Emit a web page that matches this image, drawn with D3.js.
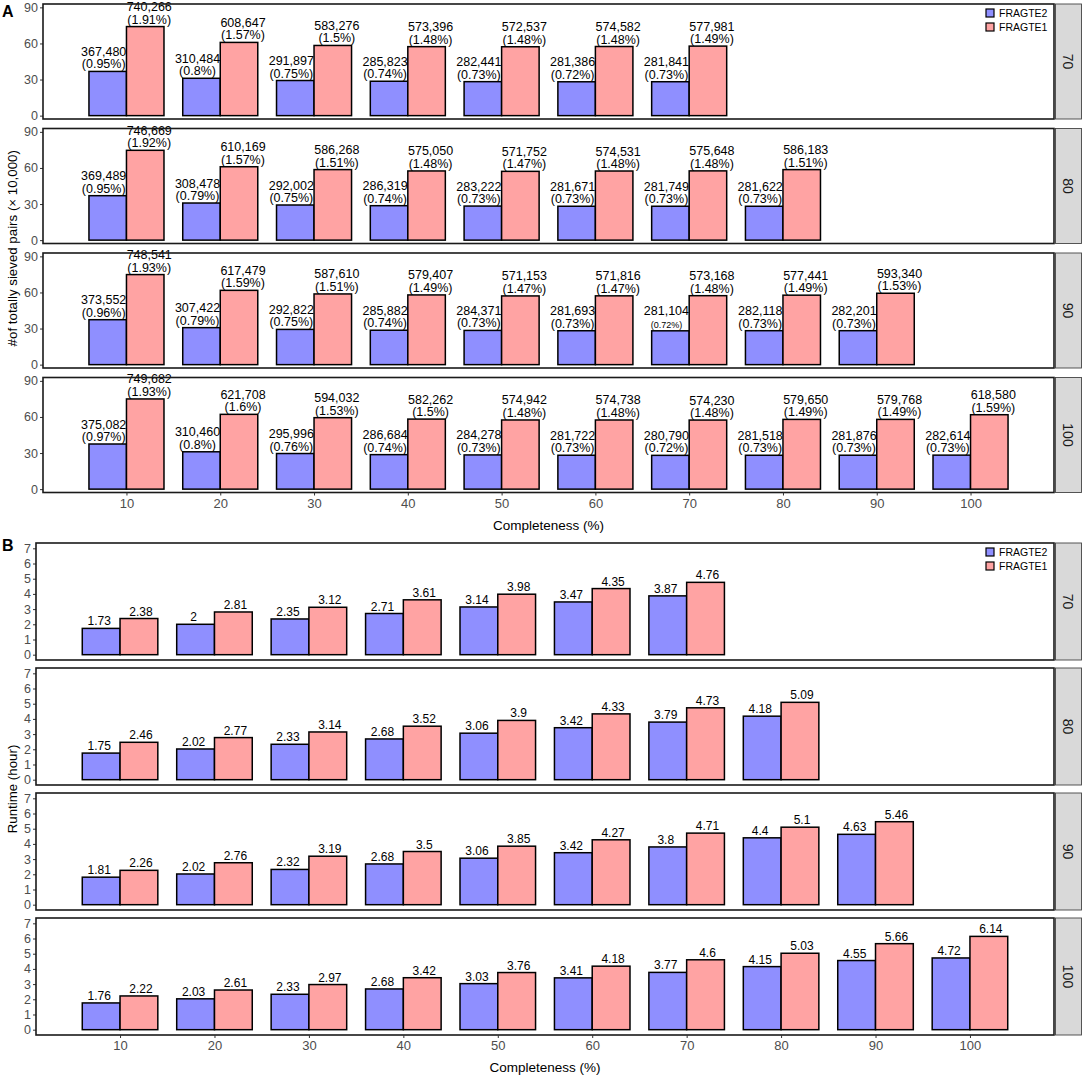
<!DOCTYPE html>
<html>
<head>
<meta charset="utf-8">
<script src="https://cdn.jsdelivr.net/npm/d3@7"></script>
<style>
  body { margin: 0; background: #fff; }
  svg { font-family: "Liberation Sans", Arial, sans-serif; }
</style>
</head>
<body>
<svg id="chart" width="1084" height="1077"></svg>
<script>
// completeness levels and facet rows
const completeness = [10, 20, 30, 40, 50, 60, 70, 80, 90, 100]
const facets = [70, 80, 90, 100]
const seriesNames = ['FRAGTE2', 'FRAGTE1']
const seriesColors = ['#8f8fff', '#ffa3a3']

// panel A: totally sieved pairs, one array per facet
const pairsFragte2 = {
  70: [367480, 310484, 291897, 285823, 282441, 281386, 281841],
  80: [369489, 308478, 292002, 286319, 283222, 281671, 281749, 281622],
  90: [373552, 307422, 292822, 285882, 284371, 281693, 281104, 282118, 282201],
  100: [375082, 310460, 295996, 286684, 284278, 281722, 280790, 281518, 281876, 282614]
}
const pctFragte2 = {
  70: [0.95, 0.8, 0.75, 0.74, 0.73, 0.72, 0.73],
  80: [0.95, 0.79, 0.75, 0.74, 0.73, 0.73, 0.73, 0.73],
  90: [0.96, 0.79, 0.75, 0.74, 0.73, 0.73, 0.72, 0.73, 0.73],
  100: [0.97, 0.8, 0.76, 0.74, 0.73, 0.73, 0.72, 0.73, 0.73, 0.73]
}
const pairsFragte1 = {
  70: [740266, 608647, 583276, 573396, 572537, 574582, 577981],
  80: [746669, 610169, 586268, 575050, 571752, 574531, 575648, 586183],
  90: [748541, 617479, 587610, 579407, 571153, 571816, 573168, 577441, 593340],
  100: [749682, 621708, 594032, 582262, 574942, 574738, 574230, 579650, 579768, 618580]
}
const pctFragte1 = {
  70: [1.91, 1.57, 1.5, 1.48, 1.48, 1.48, 1.49],
  80: [1.92, 1.57, 1.51, 1.48, 1.47, 1.48, 1.48, 1.51],
  90: [1.93, 1.59, 1.51, 1.49, 1.47, 1.47, 1.48, 1.49, 1.53],
  100: [1.93, 1.6, 1.53, 1.5, 1.48, 1.48, 1.48, 1.49, 1.49, 1.59]
}

// panel B: runtime in hours
const runtimeFragte2 = {
  70: [1.73, 2, 2.35, 2.71, 3.14, 3.47, 3.87],
  80: [1.75, 2.02, 2.33, 2.68, 3.06, 3.42, 3.79, 4.18],
  90: [1.81, 2.02, 2.32, 2.68, 3.06, 3.42, 3.8, 4.4, 4.63],
  100: [1.76, 2.03, 2.33, 2.68, 3.03, 3.41, 3.77, 4.15, 4.55, 4.72]
}
const runtimeFragte1 = {
  70: [2.38, 2.81, 3.12, 3.61, 3.98, 4.35, 4.76],
  80: [2.46, 2.77, 3.14, 3.52, 3.9, 4.33, 4.73, 5.09],
  90: [2.26, 2.76, 3.19, 3.5, 3.85, 4.27, 4.71, 5.1, 5.46],
  100: [2.22, 2.61, 2.97, 3.42, 3.76, 4.18, 4.6, 5.03, 5.66, 6.14]
}

const yTicksA = [0, 30, 60, 90]
const yTicksB = [0, 1, 2, 3, 4, 5, 6, 7]
const xTicks = completeness

const svg = d3.select('#chart')
const fmt = d3.format(',')

/**
 * Builds bar records for one section
 */
function buildRows (fragte2, fragte1, labelFn) {
  const rows = []
  facets.forEach(f => {
    fragte2[f].forEach((v, i) => {
      rows.push({ facet: f, c: completeness[i], s: 0, value: v, label: labelFn(f, 0, i) })
      rows.push({ facet: f, c: completeness[i], s: 1, value: fragte1[f][i], label: labelFn(f, 1, i) })
    })
  })
  return rows
}

/**
 * Draws one faceted block (A or B)
 */
function drawSection (cfg) {
  const x = d3.scaleLinear().domain([1.1, 108.9]).range([cfg.left, cfg.right])
  const g = svg.append('g')

  facets.forEach((f, fi) => {
    const top = cfg.top + fi * cfg.step
    const y = d3.scaleLinear().domain(cfg.yDomain).range([top + cfg.panelH, top])
    const pg = g.append('g')

    // y axis
    const ya = pg.append('g')
      .attr('transform', `translate(${cfg.left},0)`)
      .call(d3.axisLeft(y).tickValues(cfg.yTicks).tickSize(3).tickPadding(2))
    ya.select('.domain').remove()
    ya.selectAll('line').attr('stroke', '#333').attr('stroke-width', 1)
    ya.selectAll('text').attr('fill', '#4d4d4d').style('font-size', '12.5px')

    // bars
    const rows = cfg.rows.filter(d => d.facet === f)
    pg.selectAll('rect.bar')
      .data(rows)
      .enter()
      .append('rect')
      .attr('class', 'bar')
      .attr('x', d => x(d.s === 0 ? d.c - 4 : d.c))
      .attr('y', d => y(cfg.valueOf(d)))
      .attr('width', x(4) - x(0))
      .attr('height', d => y(0) - y(cfg.valueOf(d)))
      .attr('fill', d => seriesColors[d.s])
      .attr('stroke', '#000')
      .attr('stroke-width', 1.5)

    // labels
    const labels = pg.selectAll('text.lab')
      .data(rows)
      .enter()
      .append('text')
      .attr('class', 'lab')
      .attr('text-anchor', 'middle')
      .attr('fill', '#000')
      .style('font-size', cfg.labelSize + 'px')
      .attr('transform', d => {
        const cx = x(d.s === 0 ? d.c - 2 : d.c + 2) + (d.s === 0 ? -cfg.labelShift : cfg.labelShift)
        return `translate(${cx},${y(cfg.valueOf(d)) - 3})`
      })
    labels.each(function (d) {
      const t = d3.select(this)
      const lines = d.label
      lines.forEach((ln, li) => {
        const small = cfg.smallLabel && cfg.smallLabel(d) && li === lines.length - 1
        t.append('tspan')
          .attr('x', 0)
          .attr('y', -(lines.length - 1 - li) * 12.5)
          .style('font-size', small ? '9px' : null)
          .text(ln)
      })
    })

    // panel border
    pg.append('rect')
      .attr('x', cfg.left)
      .attr('y', top)
      .attr('width', cfg.right - cfg.left)
      .attr('height', cfg.panelH)
      .attr('fill', 'none')
      .attr('stroke', '#1a1a1a')
      .attr('stroke-width', 1.6)

    // strip
    pg.append('rect')
      .attr('x', cfg.right + 1.5)
      .attr('y', top)
      .attr('width', 26)
      .attr('height', cfg.panelH)
      .attr('fill', '#d9d9d9')
      .attr('stroke', '#444')
      .attr('stroke-width', 0.9)
    pg.append('text')
      .attr('transform', `translate(${cfg.right + 14},${top + cfg.panelH / 2}) rotate(90)`)
      .attr('text-anchor', 'middle')
      .attr('dy', '0.35em')
      .attr('fill', '#1a1a1a')
      .style('font-size', '14px')
      .text(f)

    // legend in first panel
    if (fi === 0) {
      seriesNames.forEach((name, si) => {
        const ly = top + 9 + si * 14
        pg.append('rect')
          .attr('x', 986)
          .attr('y', ly - 4)
          .attr('width', 8)
          .attr('height', 8)
          .attr('fill', seriesColors[si])
          .attr('stroke', '#000')
          .attr('stroke-width', 1.2)
        pg.append('text')
          .attr('x', 999)
          .attr('y', ly)
          .attr('dy', '0.35em')
          .style('font-size', '10.5px')
          .attr('fill', '#000')
          .text(name)
      })
    }

    // x axis under last panel
    if (fi === facets.length - 1) {
      const xa = pg.append('g')
        .attr('transform', `translate(0,${top + cfg.panelH})`)
        .call(d3.axisBottom(x).tickValues(xTicks).tickSize(3).tickPadding(3))
      xa.select('.domain').remove()
      xa.selectAll('line').attr('stroke', '#333')
      xa.selectAll('text').attr('fill', '#4d4d4d').style('font-size', '13px')
      pg.append('text')
        .attr('x', (cfg.left + cfg.right) / 2)
        .attr('y', top + cfg.panelH + 37)
        .attr('text-anchor', 'middle')
        .style('font-size', '13.5px')
        .attr('fill', '#000')
        .text('Completeness (%)')
    }
  })

  // y title
  const midY = cfg.top + (facets.length - 1) * cfg.step / 2 + cfg.panelH / 2
  g.append('text')
    .attr('transform', `translate(17,${midY}) rotate(-90)`)
    .attr('text-anchor', 'middle')
    .style('font-size', '13.3px')
    .attr('fill', '#000')
    .text(cfg.yTitle)

  // section letter
  g.append('text')
    .attr('x', 2)
    .attr('y', cfg.letterY)
    .style('font-size', '16px')
    .style('font-weight', 'bold')
    .attr('fill', '#000')
    .text(cfg.letter)
}

const rowsA = buildRows(pairsFragte2, pairsFragte1, (f, s, i) => {
  const counts = s === 0 ? pairsFragte2 : pairsFragte1
  const pcts = s === 0 ? pctFragte2 : pctFragte1
  return [fmt(counts[f][i]), '(' + pcts[f][i] + '%)']
})
const rowsB = buildRows(runtimeFragte2, runtimeFragte1, (f, s, i) => {
  const r = s === 0 ? runtimeFragte2 : runtimeFragte1
  return [String(r[f][i])]
})

drawSection({
  letter: 'A',
  letterY: 17,
  rows: rowsA,
  valueOf: d => d.value / 10000,
  left: 43,
  right: 1054,
  top: 4,
  panelH: 115,
  step: 124.5,
  yDomain: [-2.8, 92.8],
  yTicks: yTicksA,
  yTitle: '#of totally sieved pairs (× 10,000)',
  labelSize: 12.5,
  labelShift: 4,
  smallLabel: d => d.facet === 90 && d.c === 70 && d.s === 0
})

drawSection({
  letter: 'B',
  letterY: 551,
  rows: rowsB,
  valueOf: d => d.value,
  left: 36,
  right: 1054,
  top: 543,
  panelH: 117,
  step: 125,
  yDomain: [-0.35, 7.35],
  yTicks: yTicksB,
  yTitle: 'Runtime (hour)',
  labelSize: 12,
  labelShift: 2
})
</script>
</body>
</html>
